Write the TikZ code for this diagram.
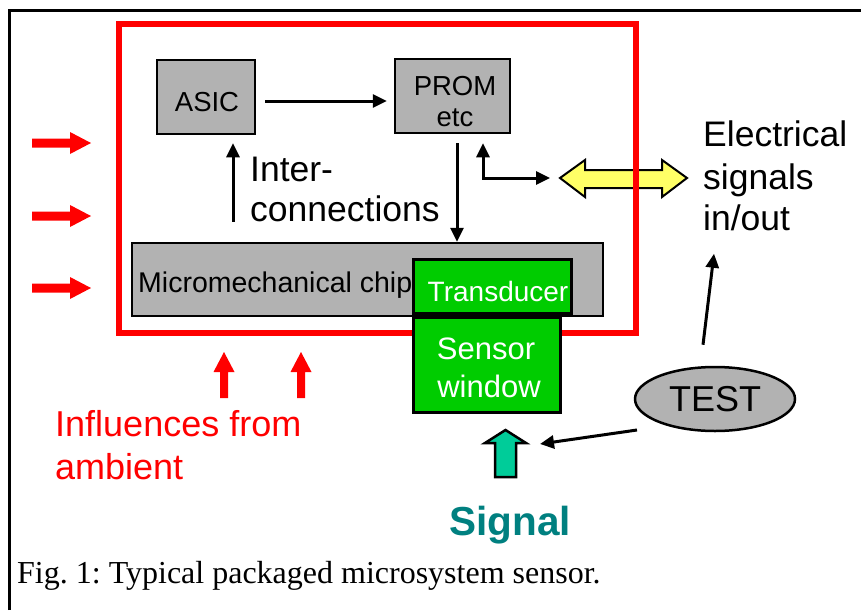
\documentclass[tikz,border=0pt]{standalone}
\usepackage{fontspec}
\setmainfont{Liberation Sans}
\newfontfamily\capfont{Liberation Serif}
\usetikzlibrary{arrows.meta,calc,shapes.geometric}
\definecolor{boxgray}{RGB}{178,178,178}
\definecolor{sgreen}{RGB}{0,204,0}
\definecolor{yel}{RGB}{255,255,102}
\definecolor{tealarrow}{RGB}{0,204,153}
\definecolor{signalteal}{RGB}{0,128,128}
\newcommand\fsz[1]{\fontsize{#1}{#1}\selectfont}
\frenchspacing
\begin{document}
\begin{tikzpicture}[x=1pt,y=-1pt,
  box/.style={draw=black, line width=2.5pt, fill=boxgray, inner sep=0pt},
  gbox/.style={draw=black, line width=3pt, fill=sgreen, inner sep=0pt},
  conn/.style={line width=3pt, -{Triangle[length=14pt,width=13pt]}},
  dconn/.style={line width=3pt, {Triangle[length=14pt,width=13pt]}-{Triangle[length=14pt,width=13pt]}},
  tb/.style={inner sep=0pt, anchor=base},
  tw/.style={inner sep=0pt, anchor=base west},
  redarrow/.style={fill=red, draw=none}]
\useasboundingbox (0,0) rectangle (861,610);
\fill[white] (0,0) rectangle (861,610);
% outer frame (left and top visible)
\draw[line width=3pt] (9.5,610) -- (9.5,11) -- (861,11);

% yellow double arrow
\coordinate (yl) at (560,178);
\draw[line width=2pt, fill=yel, line join=miter] (yl) -- (585,160) -- (585,170) -- (662,170) -- (662,160) -- (687,178) -- (662,197) -- (662,188) -- (585,188) -- (585,197) -- cycle;

% red package frame
\draw[red, line width=6pt] (119,24) rectangle (636,333);

% boxes
\node[box, minimum width=98pt, minimum height=74pt] (asic) at (206,97) {};
\node[box, minimum width=115pt, minimum height=74pt] (prom) at (452.5,96) {};
\node[box, minimum width=471pt, minimum height=73pt] (chip) at (367.5,279.5) {};
\node[gbox, minimum width=158pt, minimum height=54pt] (trans) at (492,286) {};
\node[gbox, minimum width=147pt, minimum height=95pt] (win) at (486.5,364.5) {};

% box texts
\node[tb, font=\fsz{27.5}] at (207,111) {ASIC};
\node[tb, font=\fsz{27.5}] at (455,95) {PROM};
\node[tb, font=\fsz{27.5}] at (455,126) {etc};
\node[tw, font=\fsz{28.5}] at (138,292) {Micromechanical chip};
\node[tb, font=\fsz{28}, text=white] at (498,301) {Transducer};
\node[tb, font=\fsz{31}, text=white] at (486,359) {Sensor};
\node[tb, font=\fsz{31}, text=white] at (489,397) {window};

% free labels
\node[tw, font=\fsz{35.5}] at (250,181) {Inter-};
\node[tw, font=\fsz{35.5}] at (250,221) {connections};
\node[tw, font=\fsz{35.5}] at (703,146) {Electrical};
\node[tw, font=\fsz{35.5}] at (703,189) {signals};
\node[tw, font=\fsz{35.5}] (io) at (703,230) {in/out};
\node[tw, font=\fsz{36}, text=red] at (55,436) {Influences from};
\node[tw, font=\fsz{36}, text=red] at (55,479) {ambient};
\node[tb, font=\bfseries\fsz{40.5}, text=signalteal] at (510,535) {Signal};
\node[tw, font=\capfont\fsz{32}] at (17,583) {Fig. 1: Typical packaged microsystem sensor.};

% TEST ellipse
\node[ellipse, draw=black, line width=2.5pt, fill=boxgray, inner sep=0pt,
      minimum width=160pt, minimum height=64pt, font=\fsz{36}] (test) at (715,399) {TEST};

% connectors
\draw[conn] ($(asic.east)+(9,4)$) -- ($(prom.west)+(-7,5)$);
\coordinate (p1) at ($(prom.south)+(4.5,9)$);
\draw[conn] (p1) -- (p1 |- chip.north);
\coordinate (p2) at ($(prom.south)+(30.5,9)$);
\coordinate (p3) at ($(yl)+(-10,0)$);
\draw[dconn] (p2) |- (p3);
\draw[conn] ($(chip.north)+(-134.5,-20)$) -- ($(asic.south)+(27,8)$);
\draw[conn] ($(test.north)+(-12,-21)$) -- ($(test.north)+(-1,-112)$);

% teal signal arrow
\coordinate (sigtip) at (505.5,430);
\draw[line width=2.5pt, fill=tealarrow, line join=miter] (sigtip) -- (526,443) -- (516,443) -- (516,477) -- (495,477) -- (495,443) -- (485,443) -- cycle;
\draw[conn] ($(test.center)+(-78,31)$) -- ($(sigtip)+(34.5,14)$);

% red influence arrows
\foreach \y in {143,216,288}
  \fill[redarrow] (32,\y-4.5) -- (70,\y-4.5) -- (70,\y-11) -- (91,\y) -- (70,\y+11) -- (70,\y+4.5) -- (32,\y+4.5) -- cycle;
\foreach \x in {224,301}
  \fill[redarrow] (\x-4,398) -- (\x-4,372) -- (\x-10.5,372) -- (\x,352) -- (\x+10.5,372) -- (\x+4,372) -- (\x+4,398) -- cycle;
\end{tikzpicture}
\end{document}
